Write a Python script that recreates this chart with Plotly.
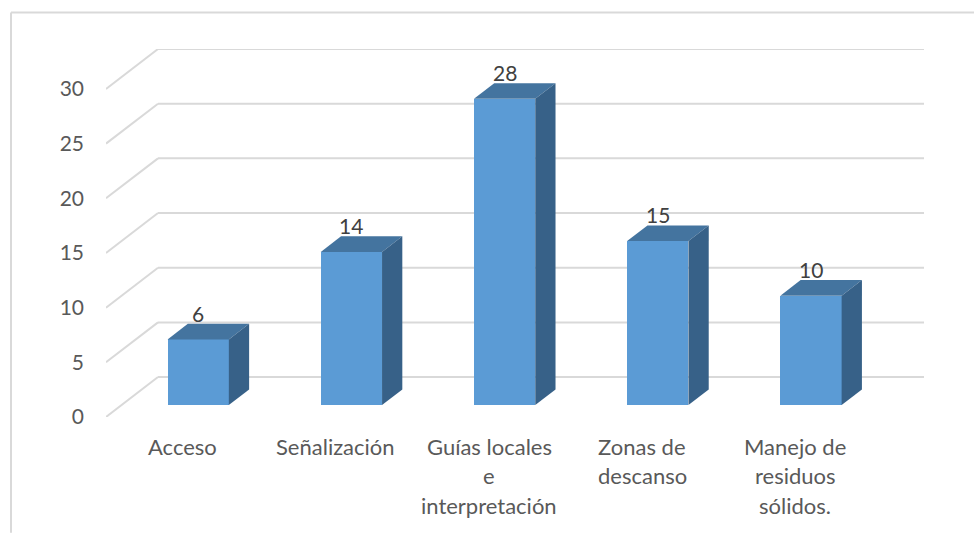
import plotly.graph_objects as go

categories = ["Acceso", "Señalización", "Guías locales", "Zonas de", "Manejo de"]
label_lines = [
    ["Acceso"],
    ["Señalización"],
    ["Guías locales", "e", "interpretación"],
    ["Zonas de", "descanso"],
    ["Manejo de", "residuos", "sólidos."],
]
values = [6, 14, 28, 15, 10]
y_ticks = [0, 5, 10, 15, 20, 25, 30]

FRONT, TOP, SIDE = "#5B9BD5", "#44749F", "#376188"
GRID, TEXT = "#D9D9D9", "#595959"
FONT = "Lato"

# Oblique projection: depth 0 is the axis plane, depth 1 the back wall.
L, R, T, B = 106, 924, 48.5, 417
x_unit = (924 - 158) / len(values)
y_unit = (417 - 88.5) / 30
DX = 52 / x_unit
DY = 40 / y_unit
D_FRONT, D_BACK = 0.30, 0.69
BAR_W = 0.40
x_max = len(values) + DX
y_max = 30 + DY


def proj(x, y, d):
    return x + d * DX, y + d * DY


fig = go.Figure()
centers = [i + 0.5 + D_FRONT * DX for i in range(len(values))]

fig.add_trace(go.Bar(
    x=centers, y=values, base=[D_FRONT * DY] * len(values), width=BAR_W,
    marker=dict(color=FRONT, line=dict(width=0)), showlegend=False,
    customdata=categories, hovertemplate="%{customdata}: %{y}<extra></extra>",
))

for i, v in enumerate(values):
    x0 = i + 0.5 - BAR_W / 2
    x1 = i + 0.5 + BAR_W / 2
    top = [proj(x0, v, D_FRONT), proj(x1, v, D_FRONT), proj(x1, v, D_BACK), proj(x0, v, D_BACK)]
    side = [proj(x1, 0, D_FRONT), proj(x1, v, D_FRONT), proj(x1, v, D_BACK), proj(x1, 0, D_BACK)]
    for poly, col in ((top, TOP), (side, SIDE)):
        xs, ys = zip(*(poly + poly[:1]))
        fig.add_trace(go.Scatter(x=xs, y=ys, mode="lines", fill="toself", fillcolor=col,
                                 line=dict(width=0), showlegend=False, hoverinfo="skip"))

shapes = []
for t in y_ticks:
    xa, ya = proj(0, t, 1)
    xb, yb = proj(len(values), t, 1)
    line = dict(color=GRID, width=2)
    shapes.append(dict(type="line", xref="x", yref="y", x0=0, y0=t, x1=xa, y1=ya, line=line, layer="below"))
    shapes.append(dict(type="line", xref="x", yref="y", x0=xa, y0=ya, x1=xb, y1=yb, line=line, layer="below"))

# Outer chart frame (left and top edges only are visible in the picture).
W, H = 974, 533
px = lambda p: (p - L) / (R - L)
py = lambda p: (B - p) / (B - T)
frame = dict(color=GRID, width=2)
shapes.append(dict(type="line", xref="paper", yref="paper", x0=px(11), x1=px(11), y0=py(533), y1=py(12), line=frame))
shapes.append(dict(type="line", xref="paper", yref="paper", x0=px(11), x1=px(974), y0=py(12), y1=py(12), line=frame))

annotations = []
for c, v in zip(centers, values):
    annotations.append(dict(x=c, y=v + D_FRONT * DY, xref="x", yref="y", text=str(v), showarrow=False,
                            yshift=26, yanchor="middle", xanchor="center",
                            font=dict(family=FONT, size=21, color="#404040")))
for i, lines in enumerate(label_lines):
    for k, line in enumerate(lines):
        annotations.append(dict(x=i + 0.5, y=0, xref="x", yref="y", text=line, showarrow=False,
                                yshift=-(29 + 29.5 * k), yanchor="middle", xanchor="center",
                                font=dict(family=FONT, size=22, color=TEXT)))

fig.update_layout(
    width=W, height=H, autosize=False,
    margin=dict(l=L, r=W - R, t=T, b=H - B, pad=0),
    paper_bgcolor="white", plot_bgcolor="white",
    showlegend=False, bargap=0,
    shapes=shapes, annotations=annotations,
    font=dict(family=FONT, size=21, color=TEXT),
    xaxis=dict(range=[0, x_max], showgrid=False, zeroline=False, showline=False,
               showticklabels=False, ticks=""),
    yaxis=dict(range=[0, y_max], tickvals=y_ticks, showgrid=False, zeroline=False, showline=False,
               ticks="", ticklabelstandoff=21, tickfont=dict(family=FONT, size=21, color=TEXT)),
)

fig.write_html("out.html", config={"displayModeBar": False},
               post_script="document.body.style.margin='0';document.body.style.overflow='hidden';")
